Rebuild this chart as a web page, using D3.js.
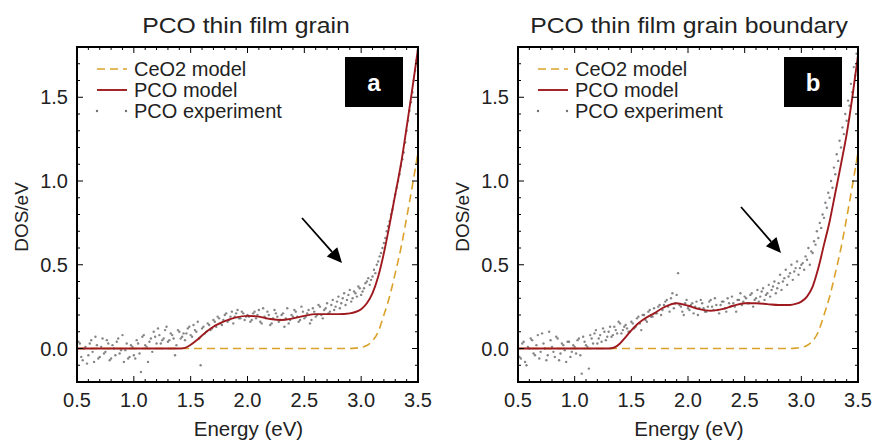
<!DOCTYPE html>
<html>
<head>
<meta charset="utf-8">
<script src="https://cdn.jsdelivr.net/npm/d3@7"></script>
<style>
  body { margin: 0; background: #fff; }
  svg { font-family: "Liberation Sans", Arial, sans-serif; }
</style>
</head>
<body>
<svg id="chart" width="874" height="441"></svg>
<script>
// model curves
const ceEnergy = [0.5, 2.9, 2.95, 3.0, 3.05, 3.1, 3.15, 3.2, 3.25, 3.3, 3.35, 3.4, 3.45, 3.5];
const ceValues = [0, 0, 0.002, 0.007, 0.018, 0.045, 0.1, 0.2, 0.31, 0.45, 0.6, 0.78, 0.97, 1.17];

const pcoEnergyA = [0.5, 1.0, 1.4, 1.45, 1.5, 1.55, 1.6, 1.65, 1.7, 1.8, 1.9, 2.0, 2.1, 2.2, 2.3, 2.4, 2.5, 2.6, 2.7, 2.8, 2.9, 2.95, 3.0, 3.05, 3.1, 3.15, 3.2, 3.25, 3.3, 3.35, 3.4, 3.45, 3.5];
const pcoValuesA = [0, 0, 0, 0.004, 0.022, 0.048, 0.078, 0.106, 0.13, 0.163, 0.186, 0.195, 0.19, 0.176, 0.17, 0.18, 0.195, 0.205, 0.205, 0.205, 0.21, 0.218, 0.235, 0.27, 0.33, 0.43, 0.57, 0.74, 0.92, 1.1, 1.32, 1.55, 1.79];

const pcoEnergyB = [0.5, 1.0, 1.3, 1.35, 1.4, 1.45, 1.5, 1.55, 1.6, 1.7, 1.8, 1.9, 2.0, 2.1, 2.2, 2.3, 2.4, 2.5, 2.6, 2.7, 2.8, 2.9, 2.95, 3.0, 3.05, 3.1, 3.15, 3.2, 3.25, 3.3, 3.35, 3.4, 3.45, 3.5];
const pcoValuesB = [0, 0, 0, 0.006, 0.03, 0.068, 0.108, 0.143, 0.17, 0.21, 0.25, 0.27, 0.255, 0.235, 0.225, 0.235, 0.255, 0.27, 0.27, 0.265, 0.26, 0.26, 0.266, 0.28, 0.31, 0.37, 0.48, 0.62, 0.76, 0.93, 1.1, 1.28, 1.5, 1.75];

// experiment points, two interleaved sweeps per panel (0.025 eV steps)
const expStart1 = 0.5, expStart2 = 0.5125, expStep = 0.025;
const expA1 = [
  -0.02, 0.03, -0.07, 0.01, -0.04, 0.05, -0.08, 0.02, -0.05, 0.06, -0.02, 0.03, -0.06, 0.0, 0.04, -0.03, 0.08, -0.01, -0.06, 0.02, -0.04,
  0.05, -0.03, 0.07, 0.02, -0.08, 0.06, 0.1, 0.03, 0.08, 0.05, 0.11, 0.04, 0.09, 0.06, 0.02, 0.1, 0.07, 0.05,
  0.12, 0.08, 0.14, 0.1, 0.06, 0.12, 0.09, 0.15, 0.11, 0.17, 0.13, 0.18, 0.14, 0.2, 0.16, 0.19, 0.15, 0.21, 0.18, 0.22, 0.17, 0.2,
  0.16, 0.21, 0.18, 0.23, 0.15, 0.19, 0.22, 0.14, 0.18, 0.21, 0.16, 0.2, 0.13, 0.24, 0.17, 0.19, 0.22, 0.16, 0.25, 0.18,
  0.21, 0.15, 0.24, 0.19, 0.26, 0.2, 0.23, 0.27, 0.22, 0.29, 0.25, 0.31, 0.27, 0.33, 0.29, 0.35, 0.3, 0.33, 0.37, 0.32,
  0.36, 0.4, 0.38, 0.43, 0.45, 0.52, 0.57, 0.63, 0.7, 0.76, 0.83, 0.92, 1.0, 1.09, 1.17, 1.3, 1.42, 1.53, 1.66, 1.78
];
const expA2 = [
  0.04, -0.05, 0.0, -0.09, 0.03, -0.02, 0.07, -0.06, 0.01, -0.03, 0.05, -0.07, 0.02, -0.04, 0.06, -0.01, -0.08, 0.03, -0.05, 0.01,
  -0.06, 0.03, -0.14, 0.08, 0.01, 0.04, -0.02, 0.07, 0.12, 0.03, 0.06, 0.13, 0.05, 0.08, -0.04, 0.11, 0.06, 0.09,
  0.09, 0.13, 0.07, 0.11, 0.16, -0.1, 0.13, 0.1, 0.14, 0.12, 0.16, 0.19, 0.15, 0.17, 0.21, 0.17, 0.22, 0.19, 0.23, 0.18, 0.21, 0.19,
  0.19, 0.17, 0.22, 0.2, 0.16, 0.24, 0.18, 0.2, 0.15, 0.23, 0.19, 0.17, 0.21, 0.18, 0.15, 0.2, 0.23, 0.19, 0.17, 0.22,
  0.19, 0.23, 0.17, 0.22, 0.2, 0.25, 0.18, 0.24, 0.21, 0.26, 0.23, 0.28, 0.24, 0.3, 0.26, 0.32, 0.28, 0.34, 0.31, 0.36,
  0.34, 0.39, 0.42, 0.41, 0.47, 0.5, 0.55, 0.6, 0.66, 0.73, 0.8, 0.88, 0.96, 1.04, 1.13, 1.23, 1.36, 1.47, 1.6, 1.72
];
const expB1 = [
  0.02, -0.06, 0.04, -0.1, 0.0, 0.05, -0.04, 0.08, -0.02, 0.03, -0.07, 0.1, 0.01, -0.05, 0.06, -0.03, 0.02, -0.08, 0.04, -0.02, 0.01,
  0.05, -0.04, 0.07, 0.02, -0.12, 0.06, 0.09, 0.03, 0.08, 0.12, 0.05, 0.1, 0.07, 0.13, 0.09, 0.15, 0.11, 0.14,
  0.1, 0.16, 0.12, 0.18, 0.15, 0.2, 0.17, 0.22, 0.19, 0.24, 0.21, 0.26, 0.23, 0.28, 0.25, 0.3, 0.24, 0.32, 0.26, 0.22, 0.27, 0.24,
  0.26, 0.21, 0.28, 0.24, 0.27, 0.22, 0.25, 0.29, 0.23, 0.26, 0.21, 0.28, 0.24, 0.3, 0.25, 0.27, 0.22, 0.29, 0.26, 0.31,
  0.27, 0.32, 0.25, 0.3, 0.28, 0.34, 0.29, 0.33, 0.31, 0.37, 0.33, 0.39, 0.35, 0.42, 0.38, 0.45, 0.41, 0.48, 0.44, 0.5,
  0.47, 0.53, 0.5, 0.57, 0.62, 0.66, 0.72, 0.78, 0.84, 0.9, 0.96, 1.04, 1.12, 1.2, 1.28, 1.36, 1.45, 1.53, 1.63, 1.74
];
const expB2 = [
  -0.05, 0.03, -0.08, 0.01, 0.06, -0.03, 0.02, -0.06, 0.09, 0.0, -0.04, 0.05, -0.02, 0.07, -0.07, 0.03, -0.01, 0.04, -0.05, 0.02,
  -0.03, 0.06, -0.15, 0.04, 0.01, 0.08, 0.03, 0.11, 0.06, 0.04, 0.1, 0.07, 0.13, 0.08, 0.11, 0.16, 0.09, 0.13,
  0.12, 0.1, 0.15, 0.13, 0.19, 0.11, 0.2, 0.16, 0.23, 0.19, 0.21, 0.25, 0.2, 0.26, 0.29, 0.22, 0.33, 0.27, 0.45, 0.25, 0.2, 0.29,
  0.23, 0.27, 0.25, 0.2, 0.29, 0.24, 0.22, 0.28, 0.25, 0.3, 0.23, 0.26, 0.28, 0.22, 0.27, 0.31, 0.25, 0.29, 0.33, 0.28,
  0.3, 0.27, 0.33, 0.29, 0.35, 0.31, 0.36, 0.32, 0.38, 0.35, 0.4, 0.36, 0.44, 0.4, 0.47, 0.43, 0.5, 0.46, 0.52, 0.48,
  0.51, 0.55, 0.6, 0.58, 0.64, 0.7, 0.75, 0.8, 0.87, 0.93, 1.0, 1.08, 1.16, 1.24, 1.32, 1.4, 1.48, 1.58, 1.68, 1.76
];

const xTicks = [0.5, 1.0, 1.5, 2.0, 2.5, 3.0, 3.5];
const yTicks = [0.0, 0.5, 1.0, 1.5];
const legendLabels = ["CeO2 model", "PCO model", "PCO experiment"];

const colors = { ce: "#dba22a", pco: "#9e1a1f", exp: "#707070" };

const svg = d3.select("#chart");

function drawPanel(cfg) {
  const left = cfg.left, right = cfg.right, top = 47, bottom = 382;
  const x = d3.scaleLinear().domain([0.5, 3.5]).range([left, right]);
  const y = d3.scaleLinear().domain([-0.2, 1.8]).range([bottom, top]);
  const g = svg.append("g");

  const clipId = "clip-" + cfg.tag;
  svg.append("clipPath").attr("id", clipId)
    .append("rect").attr("x", left).attr("y", top)
    .attr("width", right - left).attr("height", bottom - top);

  const plot = g.append("g").attr("clip-path", `url(#${clipId})`);

  // experiment dots
  const pts = cfg.exp1.map((v, i) => [expStart1 + i * expStep, v])
    .concat(cfg.exp2.map((v, i) => [expStart2 + i * expStep, v]));
  plot.selectAll("circle.exp").data(pts).join("circle")
    .attr("class", "exp")
    .attr("cx", d => x(d[0])).attr("cy", d => y(d[1]))
    .attr("r", 1.2).attr("fill", colors.exp).attr("opacity", 0.85);

  const line = d3.line().x(d => x(d[0])).y(d => y(d[1])).curve(d3.curveMonotoneX);

  plot.append("path")
    .datum(ceEnergy.map((e, i) => [e, ceValues[i]]))
    .attr("d", line).attr("fill", "none")
    .attr("stroke", colors.ce).attr("stroke-width", 1.6)
    .attr("stroke-dasharray", "8,5");

  plot.append("path")
    .datum(cfg.pcoE.map((e, i) => [e, cfg.pcoV[i]]))
    .attr("d", line).attr("fill", "none")
    .attr("stroke", colors.pco).attr("stroke-width", 1.9);

  // ticks on all sides, pointing inward
  const xMinor = d3.range(0.5, 3.5001, 0.1);
  const yMinor = d3.range(-0.2, 1.8001, 0.1);
  const tk = g.append("g").attr("stroke", "#000").attr("stroke-width", 1);
  xMinor.forEach(v => {
    const major = Math.abs(v * 2 - Math.round(v * 2)) < 1e-6;
    const len = major ? 6 : 3;
    tk.append("line").attr("x1", x(v)).attr("x2", x(v)).attr("y1", bottom).attr("y2", bottom - len);
    tk.append("line").attr("x1", x(v)).attr("x2", x(v)).attr("y1", top).attr("y2", top + len);
  });
  yMinor.forEach(v => {
    const major = Math.abs(v * 2 - Math.round(v * 2)) < 1e-6;
    const len = major ? 6 : 3;
    tk.append("line").attr("y1", y(v)).attr("y2", y(v)).attr("x1", left).attr("x2", left + len);
    tk.append("line").attr("y1", y(v)).attr("y2", y(v)).attr("x1", right).attr("x2", right - len);
  });

  g.append("rect").attr("x", left).attr("y", top)
    .attr("width", right - left).attr("height", bottom - top)
    .attr("fill", "none").attr("stroke", "#000").attr("stroke-width", 2);

  // tick labels
  g.selectAll("text.xt").data(xTicks).join("text")
    .attr("class", "xt")
    .attr("x", d => x(d)).attr("y", 407)
    .attr("text-anchor", "middle").attr("font-size", 20).attr("fill", "#222")
    .text(d => d.toFixed(1));
  g.selectAll("text.yt").data(yTicks).join("text")
    .attr("class", "yt")
    .attr("x", left - 9).attr("y", d => y(d)).attr("dy", "0.35em")
    .attr("text-anchor", "end").attr("font-size", 20).attr("fill", "#222")
    .text(d => d.toFixed(1));

  // axis titles and panel title
  g.append("text").attr("x", (left + right) / 2 + 1).attr("y", 436)
    .attr("text-anchor", "middle").attr("font-size", 20.5).attr("fill", "#222")
    .text("Energy (eV)");
  g.append("text")
    .attr("transform", `translate(${left - 49},${217}) rotate(-90)`)
    .attr("text-anchor", "middle").attr("font-size", 19).attr("fill", "#222")
    .text("DOS/eV");
  g.append("text")
    .attr("transform", `translate(${cfg.titleX},33) scale(1.1,1)`)
    .attr("text-anchor", "middle").attr("font-size", 22.5).attr("fill", "#222")
    .text(cfg.title);

  // legend
  const lx = left + 20, rows = [69, 90, 111];
  g.append("line").attr("x1", lx).attr("x2", lx + 30).attr("y1", rows[0]).attr("y2", rows[0])
    .attr("stroke", colors.ce).attr("stroke-width", 1.6).attr("stroke-dasharray", "8,5");
  g.append("line").attr("x1", lx).attr("x2", lx + 30).attr("y1", rows[1]).attr("y2", rows[1])
    .attr("stroke", colors.pco).attr("stroke-width", 1.9);
  [lx, lx + 29].forEach(px => {
    g.append("circle").attr("cx", px).attr("cy", rows[2]).attr("r", 1.2).attr("fill", colors.exp);
  });
  legendLabels.forEach((t, i) => {
    g.append("text").attr("x", lx + 37).attr("y", rows[i]).attr("dy", "0.35em")
      .attr("font-size", 20).attr("fill", "#222").text(t);
  });

  // panel letter box
  g.append("rect").attr("x", cfg.boxX).attr("y", 57).attr("width", 58).attr("height", 50)
    .attr("fill", "#000");
  g.append("text").attr("x", cfg.boxX + 29).attr("y", 83).attr("dy", "0.35em")
    .attr("text-anchor", "middle").attr("font-size", 24).attr("font-weight", "bold")
    .attr("fill", "#fff").text(cfg.tag);

  // arrow
  const a = cfg.arrow;
  const ang = Math.atan2(a[3] - a[1], a[2] - a[0]);
  const hl = 15, hw = 7;
  const bx = a[2] - hl * Math.cos(ang), by = a[3] - hl * Math.sin(ang);
  g.append("line").attr("x1", a[0]).attr("y1", a[1]).attr("x2", bx).attr("y2", by)
    .attr("stroke", "#000").attr("stroke-width", 1.8);
  g.append("path")
    .attr("d", `M${a[2]},${a[3]} L${bx + hw * Math.sin(ang)},${by - hw * Math.cos(ang)} L${bx - hw * Math.sin(ang)},${by + hw * Math.cos(ang)} Z`)
    .attr("fill", "#000");
}

drawPanel({
  tag: "a", left: 77, right: 418, title: "PCO thin film grain", titleX: 246,
  pcoE: pcoEnergyA, pcoV: pcoValuesA, exp1: expA1, exp2: expA2,
  boxX: 345, arrow: [302, 218, 342, 263]
});
drawPanel({
  tag: "b", left: 518, right: 858, title: "PCO thin film grain boundary", titleX: 689,
  pcoE: pcoEnergyB, pcoV: pcoValuesB, exp1: expB1, exp2: expB2,
  boxX: 784, arrow: [741, 207, 781, 253]
});
</script>
</body>
</html>
